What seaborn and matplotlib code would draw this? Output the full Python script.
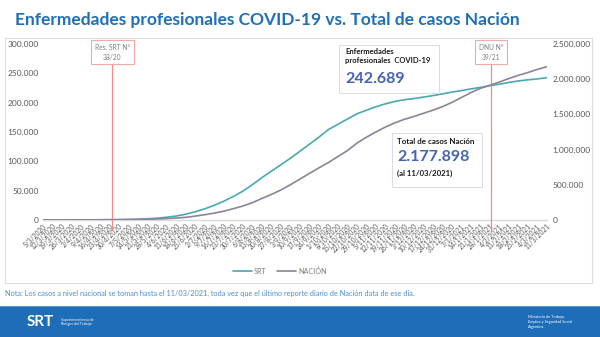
import matplotlib
matplotlib.use("Agg")
import matplotlib.pyplot as plt
import seaborn as sns
import pandas as pd
import numpy as np
from matplotlib.patches import Rectangle

sns.set_theme(style="white")
plt.rcParams['font.family'] = ['Lato', 'DejaVu Sans']

fechas = ["5/3/2020", "12/3/2020", "19/3/2020", "26/3/2020", "2/4/2020", "9/4/2020", "16/4/2020",
          "23/4/2020", "30/4/2020", "7/5/2020", "14/5/2020", "21/5/2020", "28/5/2020", "4/6/2020",
          "11/6/2020", "18/6/2020", "25/6/2020", "2/7/2020", "9/7/2020", "16/7/2020", "23/7/2020",
          "30/7/2020", "6/8/2020", "13/8/2020", "20/8/2020", "27/8/2020", "3/9/2020", "10/9/2020",
          "17/9/2020", "24/9/2020", "1/10/2020", "8/10/2020", "15/10/2020", "22/10/2020",
          "29/10/2020", "5/11/2020", "12/11/2020", "19/11/2020", "26/11/2020", "3/12/2020",
          "10/12/2020", "17/12/2020", "24/12/2020", "31/12/2020", "7/1/2021", "14/1/2021",
          "21/1/2021", "28/1/2021", "4/2/2021", "11/2/2021", "18/2/2021", "25/2/2021",
          "4/3/2021", "11/3/2021"]

srt = [0, 5, 20, 60, 150, 280, 420, 580, 750, 1000, 1400, 2100, 3100, 4700, 6800, 9800,
       14000, 19000, 25000, 32000, 40000, 49000, 60000, 72000, 83000, 94000, 105000, 117000,
       129000, 141000, 154000, 163000, 172000, 181000, 187000, 193000, 198000, 202000, 205000,
       207000, 209500, 212000, 215000, 218000, 220500, 223500, 226000, 229000, 231500, 234500,
       237000, 239000, 240500, 242689]

nacion = [1, 30, 130, 500, 1300, 2000, 2600, 3400, 4400, 5400, 6900, 9300, 14700, 20200, 27400,
          37500, 55000, 75000, 98000, 125000, 160000, 198000, 245000, 305000, 362000, 425000,
          500000, 580000, 660000, 740000, 815000, 900000, 985000, 1090000, 1175000,
          1250000, 1320000, 1380000, 1430000, 1470000, 1515000, 1560000, 1610000, 1670000,
          1740000, 1810000, 1870000, 1915000, 1960000, 2010000, 2055000, 2095000, 2140000, 2177898]

eventos = [("Res. SRT N°\n38/20", 7.3), ("DNU N°\n39/21", 47.1)]

df = pd.DataFrame({"i": np.arange(len(fechas)), "SRT": srt, "NACIÓN": nacion})

TEAL = "#4aa8b0"
PURP = "#8e8298"
RED = "#f28b8b"
BLUE_T = "#1f6fb8"

fig = plt.figure(figsize=(6, 3.37), dpi=100)
fig.patch.set_facecolor("white")
W, H = 600, 337

# chart frame
fig.patches.append(Rectangle((5 / W, 1 - 283 / H), 587 / W, 245 / H, transform=fig.transFigure,
                             fill=False, edgecolor="#dcdcdc", lw=0.8))

ax = fig.add_axes([43 / W, 1 - 220 / H, 504 / W, 176 / H])
ax2 = ax.twinx()

sns.lineplot(data=df, x="i", y="SRT", ax=ax, color=TEAL, lw=1.2, label="SRT", legend=False)
sns.lineplot(data=df, x="i", y="NACIÓN", ax=ax2, color=PURP, lw=1.2, label="NACIÓN", legend=False)

ax.set_xlim(0, len(fechas) - 1)
ax.set_ylim(0, 300000)
ax2.set_ylim(0, 2500000)

def fmt(v):
    return f"{int(v):,}".replace(",", ".")

ax.set_yticks(np.arange(0, 300001, 50000))
ax.set_yticklabels([fmt(v) for v in np.arange(0, 300001, 50000)], fontsize=6, color="#595959")
ax2.set_yticks(np.arange(0, 2500001, 500000))
ax2.set_yticklabels([fmt(v) for v in np.arange(0, 2500001, 500000)], fontsize=6, color="#595959")
ax.set_xticks(range(len(fechas)))
ax.set_xticklabels(fechas, rotation=45, ha="right", rotation_mode="anchor", fontsize=4.8, color="#595959")
ax.tick_params(axis="both", length=0, pad=3)
ax2.tick_params(axis="y", length=0, pad=4)
ax.tick_params(axis="x", pad=2)
ax.set_xlabel("")
ax.set_ylabel("")
ax2.set_ylabel("")
for a in (ax, ax2):
    for s in a.spines.values():
        s.set_visible(False)
    a.patch.set_alpha(0)
ax.spines["bottom"].set_visible(True)
ax.spines["bottom"].set_color("#d9d9d9")
ax.spines["bottom"].set_linewidth(1)
ax.grid(False)
ax2.grid(False)

# event lines and boxes
for lab, xv in eventos:
    ax.axvline(xv, ymin=-0.057, ymax=0.89, color=RED, lw=0.9, clip_on=False, zorder=5)
    xf = ax.transData.transform((xv, 0))[0] / fig.bbox.width
    fig.text(xf, 1 - 52 / H, lab, ha="center", va="center", fontsize=4.8, color="#7f7f7f",
             linespacing=1.5,
             bbox=dict(boxstyle="square,pad=0.55", fc="white", ec="#f4a9a9", lw=0.8))

# value boxes
fig.patches.append(Rectangle((339 / W, 1 - 93 / H), 100 / W, 48 / H, transform=fig.transFigure,
                             facecolor="white", edgecolor="#d6dce8", lw=0.7, zorder=6))
fig.text(345 / W, 1 - 56 / H, "Enfermedades\nprofesionales  COVID-19", fontsize=5.5, fontweight="bold",
         color="#1a1a1a", va="center", ha="left", linespacing=1.45, zorder=7)
fig.text(345 / W, 1 - 79 / H, "242.689", fontsize=11.5, fontweight="bold", color="#4563b0",
         va="center", ha="left", zorder=7)

fig.patches.append(Rectangle((392 / W, 1 - 187 / H), 90 / W, 54 / H, transform=fig.transFigure,
                             facecolor="white", edgecolor="#d6dce8", lw=0.7, zorder=6))
fig.text(397 / W, 1 - 142 / H, "Total de casos Nación", fontsize=5.8, fontweight="bold",
         color="#1a1a1a", va="center", ha="left", zorder=7)
fig.text(397 / W, 1 - 157 / H, "2.177.898", fontsize=11.5, fontweight="bold", color="#4563b0",
         va="center", ha="left", zorder=7)
fig.text(397 / W, 1 - 173 / H, "(al 11/03/2021)", fontsize=5.6, fontweight="bold",
         color="#1a1a1a", va="center", ha="left", zorder=7)

# legend
h1, l1 = ax.get_legend_handles_labels()
h2, l2 = ax2.get_legend_handles_labels()
fig.legend(h1 + h2, l1 + l2, loc="center", bbox_to_anchor=(280 / W, 1 - 271 / H), ncol=2,
           frameon=False, fontsize=5.2, handlelength=2.6, handletextpad=0.3, columnspacing=1.5,
           labelcolor="#7f7f7f")

# title
fig.text(15 / W, 1 - 20 / H, "Enfermedades profesionales COVID-19 vs. Total de casos Nación",
         fontsize=12.5, fontweight="bold", color=BLUE_T, ha="left", va="center")

# note
fig.text(5 / W, 1 - 293 / H,
         "Nota: Los casos a nivel nacional se toman hasta el 11/03/2021, toda vez que el último reporte diario de Nación data de ese día.",
         fontsize=5.3, color="#4a8fd0", ha="left", va="center")

# footer band
fig.patches.append(Rectangle((0, 0), 1, 30 / H, transform=fig.transFigure,
                             facecolor="#1d6db8", edgecolor="none"))
fig.patches.append(Rectangle((0, 30 / H), 1, 1.2 / H, transform=fig.transFigure,
                             facecolor="#5b9bd5", edgecolor="none"))
fig.text(27 / W, 15 / H, "SRT", fontsize=11, fontweight="bold", color="white", ha="left", va="center")
fig.text(61 / W, 15 / H, "Superintendencia de\nRiesgos del Trabajo", fontsize=2.6, color="white",
         ha="left", va="center", linespacing=1.2)
fig.text(528 / W, 15 / H, "Ministerio de Trabajo,\nEmpleo y Seguridad Social\nArgentina", fontsize=2.8,
         color="white", ha="left", va="center", linespacing=1.3)

fig.savefig("out.png", dpi=100, facecolor="white")
